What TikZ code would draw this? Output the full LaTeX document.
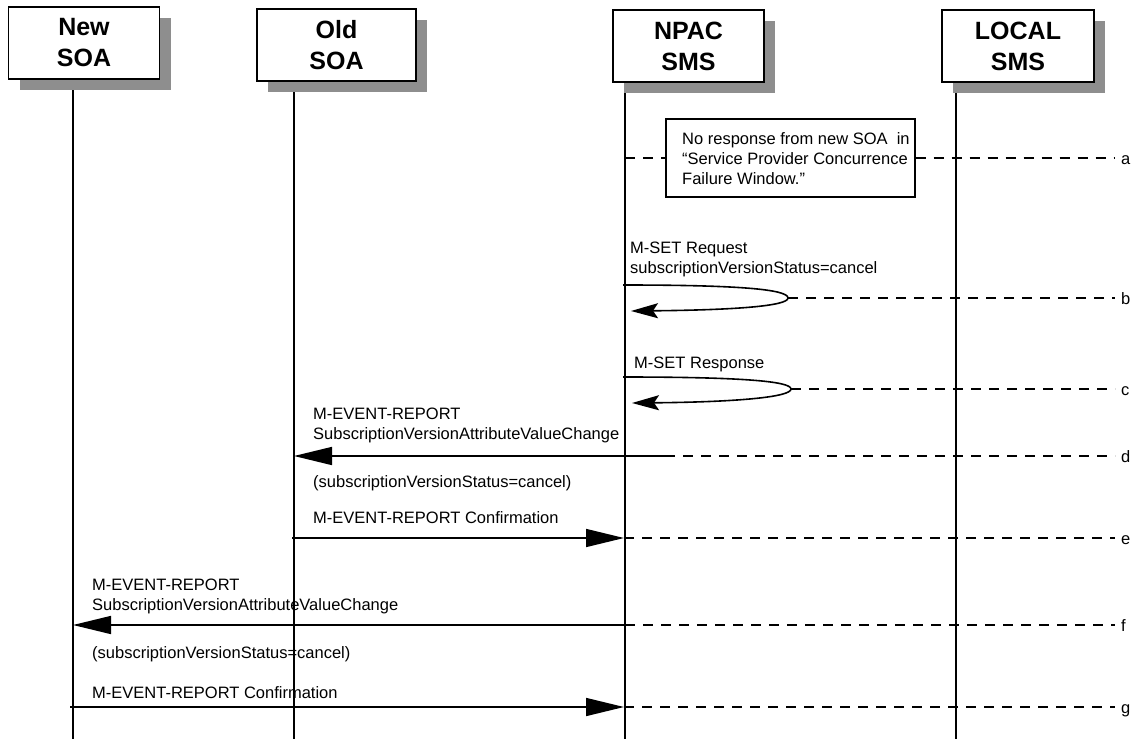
\documentclass[tikz,border=0pt]{standalone}
\usepackage{fontspec}
\setmainfont{Liberation Sans}
\usetikzlibrary{arrows.meta,shadows}
\definecolor{shadowgray}{RGB}{142,142,142}
\begin{document}
\begin{tikzpicture}[x=1pt,y=-1pt,
  hdr/.style={draw, line width=1.6pt, fill=white, minimum width=151pt, minimum height=72pt,
    align=center, inner sep=0pt, font=\fontsize{25}{31}\selectfont\bfseries,
    drop shadow={shadow xshift=11pt, shadow yshift=-11pt, opacity=1, fill=shadowgray}},
  lifeline/.style={line width=1.6pt},
  msg/.style={line width=1.6pt, -{Triangle[length=38pt,width=18pt]}},
  selfmsg/.style={line width=1.6pt, -{Stealth[length=27pt,width=15pt,inset=5pt]}},
  guide/.style={line width=1.3pt, dash pattern=on 10pt off 8pt},
  lbl/.style={font=\fontsize{16.5}{20}\selectfont, align=left, inner sep=0pt, anchor=base west},
  tag/.style={font=\fontsize{16.5}{20}\selectfont, inner sep=0pt, anchor=base west},
  notebox/.style={draw, line width=1.2pt, fill=white, minimum width=249pt, minimum height=78pt, inner sep=0pt}
]
\useasboundingbox (0,0) rectangle (1132,739);

% lifelines
\coordinate (nsoaT) at (73,85);  \coordinate (nsoaB) at (73,739);
\coordinate (osoaT) at (294,85); \coordinate (osoaB) at (294,739);
\coordinate (npacT) at (625,85); \coordinate (npacB) at (625,739);
\coordinate (lsmsT) at (956,85); \coordinate (lsmsB) at (956,739);
\draw[lifeline] (nsoaT) -- (nsoaB);
\draw[lifeline] (osoaT) -- (osoaB);
\draw[lifeline] (npacT) -- (npacB);
\draw[lifeline] (lsmsT) -- (lsmsB);

% headers
\node[hdr] (nsoa) at (84,43) {New\\SOA};
\node[hdr, minimum width=159pt] (osoa) at (336.5,45) {Old\\SOA};
\node[hdr] (npac) at (688.5,46) {NPAC\\SMS};
\node[hdr, minimum width=152pt] (lsms) at (1018,46) {LOCAL\\SMS};

% row a
\node[notebox] (note) at (790.5,158) {};
\node[lbl] (notetext) at (682,184) {No response from new SOA\ \ in\\“Service Provider Concurrence\\Failure Window.”};
\coordinate (aN) at (625,158);
\coordinate (aE) at (1115,158);
\draw[guide] (aN) -- (note.west);
\draw[guide] (note.east) -- (aE);
\node[tag] (ta) at (1121,164) {a};

% row b
\node[lbl] (lb) at (630,273) {M-SET Request\\subscriptionVersionStatus=cancel};
\coordinate (bS) at (623,285);
\coordinate (bT) at (788,298);
\coordinate (bR) at (631,311);
\coordinate (bE) at (1115,298);
\draw[selfmsg] (bS) .. controls (735,285) and (788,289) .. (bT) .. controls (788,306) and (735,310) .. (bR);
\draw[guide] (bT) -- (bE);
\node[tag] (tb) at (1121,304) {b};

% row c
\node[lbl] (lc) at (634,368) {M-SET Response};
\coordinate (cS) at (623,377);
\coordinate (cT) at (791,389);
\coordinate (cR) at (632,403);
\coordinate (cE) at (1115,389);
\draw[selfmsg] (cS) .. controls (738,377) and (791,381) .. (cT) .. controls (791,397) and (738,402) .. (cR);
\draw[guide] (cT) -- (cE);
\node[tag] (tc) at (1121,395) {c};

% row d
\node[lbl] (ld) at (313,439) {M-EVENT-REPORT\\SubscriptionVersionAttributeValueChange};
\node[lbl] (ld2) at (313,487) {(subscriptionVersionStatus=cancel)};
\coordinate (dS) at (665,456);
\coordinate (dO) at (294,456);
\coordinate (dE) at (1115,456);
\draw[msg] (dS) -- (dO);
\draw[guide] (dS) -- (dE);
\node[tag] (td) at (1121,462) {d};

% row e
\node[lbl] (le) at (313,523) {M-EVENT-REPORT Confirmation};
\coordinate (eO) at (292,538);
\coordinate (eN) at (624,538);
\coordinate (eE) at (1115,538);
\draw[msg] (eO) -- (eN);
\draw[guide] (eN) -- (eE);
\node[tag] (te) at (1121,544) {e};

% row f
\node[lbl] (lf) at (92,610) {M-EVENT-REPORT\\SubscriptionVersionAttributeValueChange};
\node[lbl] (lf2) at (92,658) {(subscriptionVersionStatus=cancel)};
\coordinate (fN) at (625,625);
\coordinate (fS) at (73,625);
\coordinate (fE) at (1115,625);
\draw[msg] (fN) -- (fS);
\draw[guide] (fN) -- (fE);
\node[tag] (tf) at (1121,631) {f};

% row g
\node[lbl] (lg) at (92,698) {M-EVENT-REPORT Confirmation};
\coordinate (gS) at (70,707);
\coordinate (gN) at (624,707);
\coordinate (gE) at (1115,707);
\draw[msg] (gS) -- (gN);
\draw[guide] (gN) -- (gE);
\node[tag] (tg) at (1121,713) {g};
\end{tikzpicture}
\end{document}
